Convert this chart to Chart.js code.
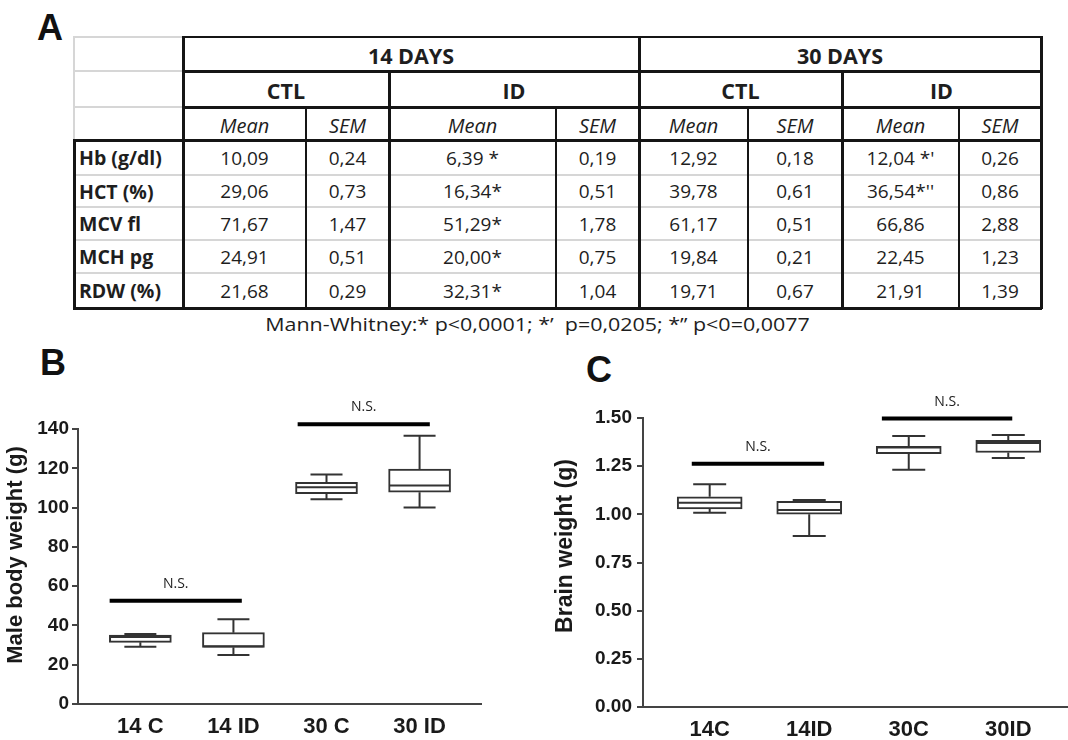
<!DOCTYPE html>
<html><head><meta charset="utf-8">
<script src="https://cdn.jsdelivr.net/npm/chart.js@4.4.1/dist/chart.umd.min.js"></script>
<style>
html,body{margin:0;padding:0;background:#fff;}
body{width:1068px;height:740px;position:relative;overflow:hidden;font-family:'Open Sans','Noto Sans',sans-serif;color:#1e1e1e;}
.lbl{position:absolute;font-family:'Liberation Sans',Arial,sans-serif;font-weight:bold;font-size:36px;line-height:1;color:#111;}
.cell{position:absolute;display:flex;align-items:center;justify-content:center;font-size:19px;white-space:pre;box-sizing:border-box;}
.hd{font-weight:bold;font-size:21.5px;padding-top:3px;}
.it{font-style:italic;font-size:20px;padding-top:3px;}
.rl{justify-content:flex-start;padding-left:5px;font-weight:bold;font-size:19.5px;}
.ln{position:absolute;}
#foot{position:absolute;left:0;width:1075px;top:311px;text-align:center;font-size:18.5px;white-space:pre;transform:scaleX(1.16);transform-origin:537.5px 50%;}
.box{position:absolute;}
</style></head><body>
<div class="lbl" style="left:37px;top:10px">A</div>
<div class="lbl" style="left:40px;top:345px">B</div>
<div class="lbl" style="left:586px;top:352px">C</div>
<div id="tbl"></div>
<div id="foot">Mann-Whitney:* p&lt;0,0001; *’  p=0,0205; *’’ p&lt;0=0,0077</div>
<div class="box" style="left:0;top:380px;width:500px;height:360px"><canvas id="cB"></canvas></div>
<div class="box" style="left:540px;top:380px;width:528px;height:360px"><canvas id="cC"></canvas></div>
<script>
// ---------- Table A data ----------
const rowLabels = ['Hb (g/dl)','HCT (%)','MCV fl','MCH pg','RDW (%)'];
const dayGroups = ['14 DAYS','30 DAYS'];
const groups = ['CTL','ID','CTL','ID'];
const statNames = ['Mean','SEM'];
const ctl14Mean = ['10,09','29,06','71,67','24,91','21,68'];
const ctl14Sem  = ['0,24','0,73','1,47','0,51','0,29'];
const id14Mean  = ['6,39 *','16,34*','51,29*','20,00*','32,31*'];
const id14Sem   = ['0,19','0,51','1,78','0,75','1,04'];
const ctl30Mean = ['12,92','39,78','61,17','19,84','19,71'];
const ctl30Sem  = ['0,18','0,61','0,51','0,21','0,67'];
const id30Mean  = ["12,04 *'","36,54*''",'66,86','22,45','21,91'];
const id30Sem   = ['0,26','0,86','2,88','1,23','1,39'];

// ---------- Chart B data ----------
const catsB  = ['14 C','14 ID','30 C','30 ID'];
const lowB   = [29.2, 24.9, 104.3, 100.1];
const q1B    = [31.4, 28.8, 107.1, 107.8];
const medB   = [34.1, 29.4, 110.3, 111.3];
const q3B    = [35.1, 36.3, 112.9, 119.6];
const highB  = [35.6, 43.1, 116.9, 136.6];
const yTicksB = [0,20,40,60,80,100,120,140];
const nsLevelB = [52.6, 142.4];
const nsFromB  = [-0.33, 1.69];
const nsToB    = [1.09, 3.11];

// ---------- Chart C data ----------
const catsC  = ['14C','14ID','30C','30ID'];
const lowC   = [1.008, 0.887, 1.232, 1.292];
const q1C    = [1.028, 1.001, 1.315, 1.321];
const medC   = [1.060, 1.022, 1.347, 1.370];
const q3C    = [1.091, 1.067, 1.353, 1.384];
const highC  = [1.156, 1.074, 1.407, 1.412];
const yTicksC = [0,0.25,0.5,0.75,1,1.25,1.5];
const nsLevelC = [1.262, 1.497];
const nsFromC  = [-0.18, 1.73];
const nsToC    = [1.15, 3.04];
const nsText = 'N.S.';

// ---------- build table ----------
const X = [74,183,306,389,556,639,748,842,959,1041];
const Y = [37,71,107,140,175,207,240,273,308];
const tbl = document.getElementById('tbl');
function cell(x1,x2,y1,y2,txt,cls){
  const d=document.createElement('div');
  d.className='cell '+(cls||'');
  d.style.left=x1+'px';d.style.top=y1+'px';d.style.width=(x2-x1)+'px';d.style.height=(y2-y1)+'px';
  d.textContent=txt;tbl.appendChild(d);
}
function hl(x1,x2,y,w,c){const d=document.createElement('div');d.className='ln';
  d.style.left=(x1-1)+'px';d.style.width=(x2-x1+2)+'px';d.style.top=(y-w/2)+'px';d.style.height=w+'px';d.style.background=c;tbl.appendChild(d);}
function vl(x,y1,y2,w,c){const d=document.createElement('div');d.className='ln';
  d.style.left=(x-w/2)+'px';d.style.width=w+'px';d.style.top=(y1-1)+'px';d.style.height=(y2-y1+2)+'px';d.style.background=c;tbl.appendChild(d);}
const G='#d6d6d6', K='#151515';
hl(X[0],X[1],Y[0],2,G); hl(X[0],X[1],Y[1],2,G); hl(X[0],X[1],Y[2],2,G); vl(X[0],Y[0],Y[3],2,G);
for(let r=4;r<8;r++) hl(X[0],X[9],Y[r],2,G);
[2,4,6,8].forEach(c=>vl(X[c],Y[2],Y[8],2,K));
hl(X[1],X[9],Y[0],2,K);
hl(X[1],X[9],Y[1],3,K);
hl(X[1],X[9],Y[2],3,K);
hl(X[0],X[9],Y[3],3,K);
hl(X[0],X[9],Y[8],3,K);
vl(X[0],Y[3],Y[8],3,K);
vl(X[1],Y[0],Y[8],3,K);
vl(X[3],Y[1],Y[8],3,K);
vl(X[5],Y[0],Y[8],3,K);
vl(X[7],Y[1],Y[8],3,K);
vl(X[9],Y[0],Y[8],3,K);
cell(X[1],X[5],Y[0],Y[1],dayGroups[0],'hd');
cell(X[5],X[9],Y[0],Y[1],dayGroups[1],'hd');
cell(X[1],X[3],Y[1],Y[2],groups[0],'hd');
cell(X[3],X[5],Y[1],Y[2],groups[1],'hd');
cell(X[5],X[7],Y[1],Y[2],groups[2],'hd');
cell(X[7],X[9],Y[1],Y[2],groups[3],'hd');
for(let c=1;c<9;c++) cell(X[c],X[c+1],Y[2],Y[3],statNames[(c-1)%2],'it');
const cols=[ctl14Mean,ctl14Sem,id14Mean,id14Sem,ctl30Mean,ctl30Sem,id30Mean,id30Sem];
rowLabels.forEach((lab,r)=>{
  cell(X[0],X[1],Y[3+r],Y[4+r],lab,'rl');
  cols.forEach((arr,c)=>cell(X[c+1],X[c+2],Y[3+r],Y[4+r],arr[r],''));
});

// ---------- charts ----------
const F = "'Liberation Sans', Arial, sans-serif";
const boxPlugin = {
  id:'boxw',
  afterDatasetsDraw(chart, args, o){
    const {ctx, scales:{x,y}} = chart;
    const bars = chart.getDatasetMeta(0).data;
    ctx.save();
    ctx.strokeStyle = o.color; ctx.lineWidth = o.lineWidth; ctx.lineCap='butt';
    o.low.forEach((lo,i)=>{
      const cx = x.getPixelForValue(i);
      const half = bars[i].width/2 - 1;
      const cap = o.capWidth/2;
      const yl=y.getPixelForValue(lo), yh=y.getPixelForValue(o.high[i]);
      const yq1=y.getPixelForValue(o.q1[i]), yq3=y.getPixelForValue(o.q3[i]), ym=y.getPixelForValue(o.med[i]);
      ctx.beginPath();
      ctx.moveTo(cx,yq3); ctx.lineTo(cx,yh);
      ctx.moveTo(cx-cap,yh); ctx.lineTo(cx+cap,yh);
      ctx.moveTo(cx,yq1); ctx.lineTo(cx,yl);
      ctx.moveTo(cx-cap,yl); ctx.lineTo(cx+cap,yl);
      ctx.moveTo(cx-half,ym); ctx.lineTo(cx+half,ym);
      ctx.stroke();
    });
    ctx.restore();
  },
  afterDraw(chart, args, o){
    const {ctx, scales:{x,y}} = chart;
    ctx.save();
    o.nsLevel.forEach((lv,i)=>{
      const x1=x.getPixelForValue(o.nsFrom[i]), x2=x.getPixelForValue(o.nsTo[i]), yy=y.getPixelForValue(lv);
      ctx.strokeStyle='#000'; ctx.lineWidth=4;
      ctx.beginPath(); ctx.moveTo(x1,yy); ctx.lineTo(x2,yy); ctx.stroke();
      ctx.fillStyle='#222'; ctx.font="14px 'Open Sans', sans-serif";
      ctx.textAlign='center'; ctx.textBaseline='middle';
      ctx.fillText(o.nsText,(x1+x2)/2,yy-17);
    });
    ctx.translate(o.titleX, o.titleY); ctx.rotate(-Math.PI/2);
    ctx.fillStyle='#1a1a1a'; ctx.font='bold '+o.titleSize+'px '+F;
    ctx.textAlign='center'; ctx.textBaseline='middle';
    ctx.fillText(o.title,0,0);
    ctx.restore();
  }
};

function makeChart(id, cats, low, q1, med, q3, high, yTicks, yMax, xMax, barW, capW, ns, opts){
  return new Chart(document.getElementById(id), {
    type:'bar',
    data:{datasets:[{
      data: cats.map((_,i)=>({x:i, y:[q1[i], q3[i]]})),
      backgroundColor:'#fff', borderColor:'#333', borderWidth:2, borderSkipped:false,
      barThickness:barW
    }]},
    options:{
      responsive:true, maintainAspectRatio:false, animation:false, devicePixelRatio:1,
      layout:{padding:{top:opts.padTop, right:opts.padRight, left:0, bottom:0}},
      plugins:{legend:{display:false}, tooltip:{enabled:false},
        boxw:{low, q1, med, q3, high, color:'#333', lineWidth:2, capWidth:capW,
          nsLevel:ns[0], nsFrom:ns[1], nsTo:ns[2], nsText,
          title:opts.title, titleX:opts.titleX, titleY:opts.titleY, titleSize:opts.titleSize}},
      scales:{
        x:{type:'linear', min:-0.67, max:xMax, offset:false,
          afterBuildTicks:s=>{ s.ticks = cats.map((_,i)=>({value:i})); },
          afterFit:s=>{ s.height = opts.xH; },
          grid:{display:true, drawOnChartArea:false, drawTicks:false},
          border:{display:true, color:'#444', width:2},
          ticks:{font:{family:F, size:22, weight:'bold'}, color:'#1a1a1a', padding:10, maxRotation:0, autoSkip:false,
            callback:v=>cats[v]}
        },
        y:{type:'linear', min:0, max:yMax,
          afterBuildTicks:s=>{ s.ticks = yTicks.map(v=>({value:v})); },
          afterFit:s=>{ s.width = opts.yW; },
          grid:{display:true, drawOnChartArea:false, drawTicks:true, tickLength:6, color:'#444', lineWidth:2},
          border:{display:true, color:'#444', width:2},
          ticks:{font:{family:F, size:19, weight:'bold'}, color:'#1a1a1a', padding:opts.tickPad,
            callback:v=>opts.fmt(v)}
        }
      }
    },
    plugins:[boxPlugin]
  });
}

makeChart('cB', catsB, lowB, q1B, medB, q3B, highB, yTicksB, 140, 3.66, 62, 32,
  [nsLevelB, nsFromB, nsToB],
  {padTop:49, padRight:19, xH:36, yW:78, tickPad:3, fmt:v=>String(v),
   title:'Male body weight (g)', titleX:16, titleY:175, titleSize:22});
makeChart('cC', catsC, lowC, q1C, medC, q3C, highC, yTicksC, 1.5, 3.6, 65, 33,
  [nsLevelC, nsFromC, nsToC],
  {padTop:38, padRight:0, xH:33, yW:103, tickPad:5, fmt:v=>v.toFixed(2),
   title:'Brain weight (g)', titleX:26, titleY:166, titleSize:23});
</script>
</body></html>
